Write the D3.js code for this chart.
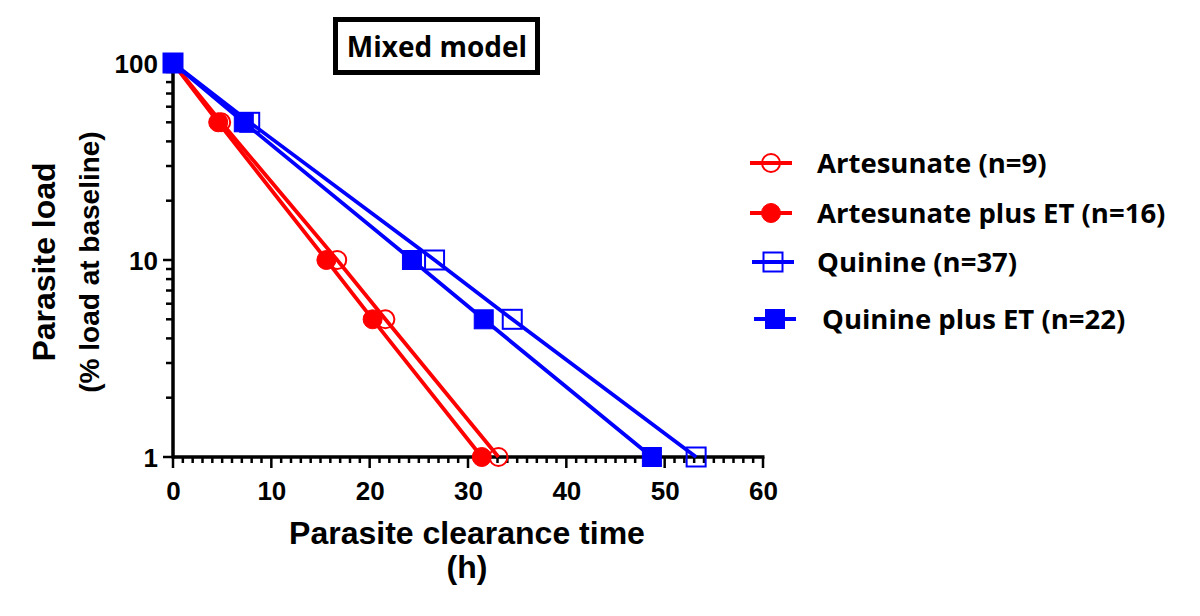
<!DOCTYPE html>
<html>
<head>
<meta charset="utf-8">
<script src="https://cdn.jsdelivr.net/npm/d3@7"></script>
<style>
  body { margin: 0; background: #fff; }
  svg { display: block; }
  .tick text { font-family: "Liberation Sans", Arial, sans-serif; font-weight: bold; font-size: 26px; fill: #000; }
</style>
</head>
<body>
<script>
// data
var loadLevels = [100, 50, 10, 5, 1];
var artesunateTimes = [0, 4.9, 16.7, 21.6, 33.1];
var artesunateEtTimes = [0, 4.6, 15.6, 20.3, 31.4];
var quinineTimes = [0, 7.8, 26.6, 34.5, 53.2];
var quinineEtTimes = [0, 7.2, 24.3, 31.6, 48.7];
var seriesNames = ["Artesunate (n=9)", "Artesunate plus ET (n=16)", "Quinine (n=37)", "Quinine plus ET (n=22)"];
var xTicks = [0, 10, 20, 30, 40, 50, 60];
var yTicks = [1, 10, 100];

var series = [
    {name: seriesNames[0], times: artesunateTimes, color: "#ff0000", shape: "circle", filled: false},
    {name: seriesNames[1], times: artesunateEtTimes, color: "#ff0000", shape: "circle", filled: true},
    {name: seriesNames[2], times: quinineTimes, color: "#0000ff", shape: "square", filled: false},
    {name: seriesNames[3], times: quinineEtTimes, color: "#0000ff", shape: "square", filled: true}
];

var svg = d3.select("body").append("svg").attr("width", 1200).attr("height", 616);

var x = d3.scaleLinear().domain([0, 60]).range([173, 763]);
var y = d3.scaleLog().domain([1, 100]).range([457, 63]);

// x axis: minor ticks every 1 h, major every 10
var minorX = d3.range(0, 61, 1);
svg.append("g").selectAll("line").data(minorX).join("line")
    .attr("x1", function (d) { return x(d); }).attr("x2", function (d) { return x(d); })
    .attr("y1", y(1)).attr("y2", function (d) { return y(1) + (d % 10 === 0 ? 11 : 6); })
    .attr("stroke", "#000").attr("stroke-width", 2.5);
var xAxis = svg.append("g").attr("transform", "translate(0," + y(1) + ")")
    .call(d3.axisBottom(x).tickValues(xTicks).tickSize(0).tickPadding(25));
xAxis.select(".domain").attr("stroke-width", 3.5).attr("d", "M" + x(0) + ",0H" + (x(60) + 1.5));

// y axis: minor ticks 2..9 in each decade
var minorY = [];
[1, 10].forEach(function (dec) {
    for (var k = 1; k <= 10; k++) minorY.push(dec * k);
});
minorY = minorY.filter(function (v, i, a) { return a.indexOf(v) === i; });
svg.append("g").selectAll("line").data(minorY).join("line")
    .attr("y1", function (d) { return y(d); }).attr("y2", function (d) { return y(d); })
    .attr("x1", x(0)).attr("x2", function (d) { return x(0) - (yTicks.indexOf(d) >= 0 ? 10 : 7); })
    .attr("stroke", "#000").attr("stroke-width", 2.5);
var yAxis = svg.append("g").attr("transform", "translate(" + x(0) + ",0)")
    .call(d3.axisLeft(y).tickValues(yTicks).tickFormat(d3.format("d")).tickSize(0).tickPadding(15));
yAxis.select(".domain").attr("stroke-width", 3.5).attr("d", "M0," + y(100) + "V" + (y(1) + 1.5));
yAxis.selectAll(".tick text").attr("dy", "0.36em");

// lines and markers
var line = d3.line()
    .x(function (d) { return x(d.t); })
    .y(function (d) { return y(d.v); });

function drawMarker(g, s, cx, cy) {
    if (s.shape === "circle") {
        g.append("circle").attr("cx", cx).attr("cy", cy).attr("r", s.filled ? 9.5 : 9)
            .attr("fill", s.filled ? s.color : "none").attr("stroke", s.color).attr("stroke-width", s.filled ? 1 : 2);
    } else {
        var h = 9.5;
        g.append("rect").attr("x", cx - h).attr("y", cy - h).attr("width", 2 * h).attr("height", 2 * h)
            .attr("fill", s.filled ? s.color : "none").attr("stroke", s.color).attr("stroke-width", s.filled ? 1 : 2);
    }
}

var plot = svg.append("g");
series.forEach(function (s) {
    var pts = s.times.map(function (t, i) { return {t: t, v: loadLevels[i]}; });
    plot.append("path").datum(pts).attr("d", line)
        .attr("fill", "none").attr("stroke", s.color).attr("stroke-width", 3.8);
});
[1, 0, 2, 3].forEach(function (si) {
    var s = series[si];
    s.times.forEach(function (t, i) {
        drawMarker(plot, s, x(t), y(loadLevels[i]));
    });
});

// axis titles
var arial = "'Liberation Sans', Arial, sans-serif";
svg.append("text").attr("transform", "translate(55,262) rotate(-90)")
    .attr("text-anchor", "middle")
    .style("font-family", arial).style("font-weight", "bold").style("font-size", "32px")
    .text("Parasite load");
svg.append("text").attr("transform", "translate(99,262) rotate(-90)")
    .attr("text-anchor", "middle")
    .style("font-family", arial).style("font-weight", "bold").style("font-size", "28px")
    .text("(% load at baseline)");
svg.append("text").attr("x", 467).attr("y", 544)
    .attr("text-anchor", "middle")
    .style("font-family", arial).style("font-weight", "bold").style("font-size", "32px")
    .text("Parasite clearance time");
svg.append("text").attr("x", 467).attr("y", 578)
    .attr("text-anchor", "middle")
    .style("font-family", arial).style("font-weight", "bold").style("font-size", "32px")
    .text("(h)");

// title box
svg.append("rect").attr("x", 335.5).attr("y", 19.5).attr("width", 202).attr("height", 53)
    .attr("fill", "#fff").attr("stroke", "#000").attr("stroke-width", 5);
svg.append("text").attr("x", 437).attr("y", 57)
    .attr("text-anchor", "middle")
    .style("font-family", "'Open Sans', sans-serif").style("font-weight", "bold").style("font-size", "28px")
    .text("Mixed model");

// legend
var legendY = [163, 213, 262, 319];
var legendX = [750, 750, 752, 754];
var textX = [817, 817, 817, 822];
var legend = svg.append("g");
series.forEach(function (s, i) {
    var ly = legendY[i];
    legend.append("line").attr("x1", legendX[i]).attr("x2", legendX[i] + 42)
        .attr("y1", ly).attr("y2", ly).attr("stroke", s.color).attr("stroke-width", 3.8);
    drawMarker(legend, s, legendX[i] + 21, ly);
    legend.append("text").attr("x", textX[i]).attr("y", ly + 10)
        .style("font-family", "'Open Sans', sans-serif").style("font-weight", "bold").style("font-size", "27.5px")
        .text(s.name);
});
</script>
</body>
</html>
